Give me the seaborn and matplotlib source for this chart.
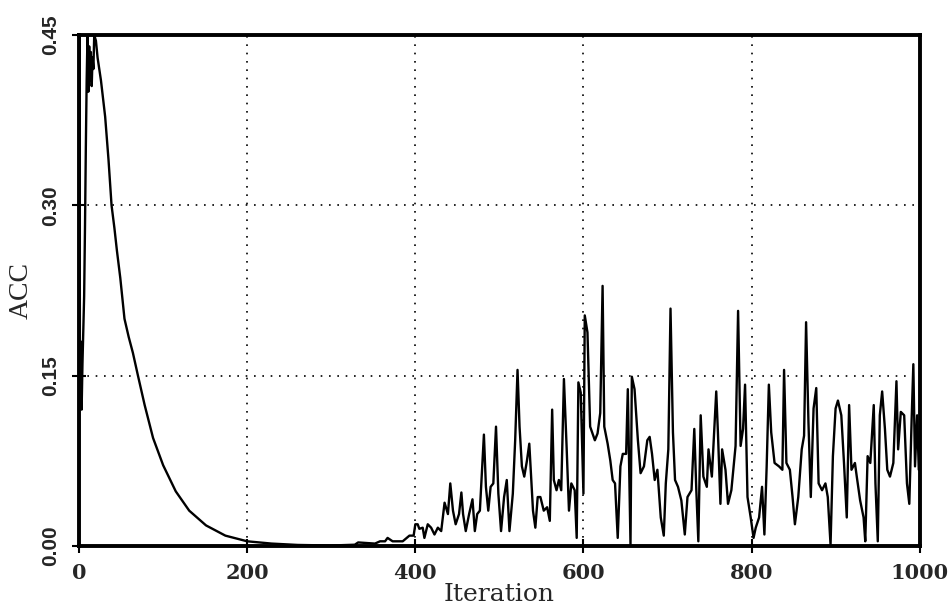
import matplotlib; matplotlib.use("Agg")
import matplotlib.pyplot as plt
import numpy as np
import pandas as pd
import seaborn as sns

# values (iteration, ACC)
ITER = [0, 0.5, 1, 2, 3, 4, 5, 6, 7, 8, 9, 10, 11, 12, 13, 14, 15, 16, 17, 18, 20,
        22, 26, 31, 35, 38.6, 42, 45, 49, 54, 59, 64, 70, 78, 88, 100, 115, 131,
        151, 174, 200, 229, 260, 300, 328, 332, 352, 358, 364, 367, 373, 385, 393,
        398,
        400, 402.8, 404.8, 408.8, 410.8, 414.8, 418.8, 422.8, 426.8, 430.8, 434.8,
        438.8, 441.6, 444.8, 448, 452, 454.8, 456.8, 460, 464, 468, 470.8, 473.6,
        476.8, 481.6, 484, 486.8, 489.6, 492.8, 496, 498.8, 502, 505.6, 508.8, 512,
        516, 518.8, 521.6, 524, 526.8, 529.6, 532.8, 535.6, 538, 540, 542.8, 545.6,
        548.8, 552.8, 556.8, 560, 562.8, 564.8, 568, 570.8, 573.6, 576.8, 580,
        582.8, 585.6, 589.6, 592, 594, 596.8, 600, 601.6, 604.8, 608, 610.8, 613.6,
        616.8, 620, 622.8, 624.8, 628.8, 632, 634.8, 637.6, 640.8, 644, 646.8,
        650.8, 652.8, 656, 657.6, 660.8, 664.8, 668, 672, 676, 678.8, 681.6, 684.8,
        688, 692, 695.6, 698, 701, 703.6, 706.5, 709, 712.5, 716.5, 720.6, 723.8,
        728.6, 731.9, 734.3, 736.7, 739.5, 742.7, 746.8, 748.8, 752.8, 758, 760,
        763, 765, 769, 772, 776, 781, 784, 787, 789.9, 792.3, 795.2, 799, 802.4,
        805, 809, 812.5, 815.3, 818, 820.6, 823.4, 827.4, 832.7, 836.7, 838.7,
        841.5, 845.6, 848.8, 851.6, 855.6, 859.7, 862.5, 864.9, 867.7, 870.5,
        873.8, 877, 879.8, 883.9, 887.9, 890.7, 894, 896.8, 900, 902.8, 906.8, 910,
        913.3, 916.1, 918.9, 923, 925.2, 929.2, 933.3, 935.3, 938.1, 941.3, 945.4,
        947.4, 950.2, 952.6, 955.4, 958.7, 961.5, 964.7, 968.7, 972.4, 974.4,
        977.6, 981.6, 984.9, 987.7, 990.5, 992.5, 994.5, 997, 999]
ACC = [0.0, 0.45, 0.14, 0.18, 0.12, 0.16, 0.19, 0.22, 0.28, 0.35, 0.41, 0.45, 0.40,
       0.44, 0.41, 0.435, 0.405, 0.43, 0.42, 0.45, 0.445,
       0.43, 0.41, 0.378, 0.34, 0.30, 0.28, 0.26, 0.236, 0.200, 0.184, 0.170, 0.150,
       0.124, 0.095, 0.071, 0.048, 0.031, 0.018, 0.009, 0.004, 0.002, 0.0008, 0.0003,
       0.001, 0.003, 0.002, 0.004, 0.004, 0.007, 0.004, 0.004, 0.009, 0.009,
       0.019, 0.019, 0.015, 0.016, 0.007, 0.019, 0.016, 0.010, 0.016, 0.013, 0.038,
       0.028, 0.055, 0.031, 0.019, 0.028, 0.047, 0.028, 0.013, 0.028, 0.041, 0.013,
       0.028, 0.031, 0.098, 0.052, 0.031, 0.052, 0.055, 0.105, 0.046, 0.013, 0.043,
       0.058, 0.013, 0.046, 0.093, 0.155, 0.105, 0.070, 0.061, 0.075, 0.090, 0.058,
       0.031, 0.016, 0.043, 0.043, 0.031, 0.034, 0.022, 0.120, 0.058, 0.049, 0.058,
       0.049, 0.147, 0.087, 0.031, 0.055, 0.049, 0.007, 0.144, 0.135, 0.046, 0.203,
       0.188, 0.105, 0.099, 0.093, 0.099, 0.117, 0.229, 0.105, 0.090, 0.075, 0.058,
       0.055, 0.007, 0.070, 0.081, 0.081, 0.138, 0.001, 0.149, 0.138, 0.093, 0.064,
       0.070, 0.093, 0.096, 0.081, 0.058, 0.067, 0.025, 0.009, 0.055, 0.085, 0.209,
       0.100, 0.058, 0.052, 0.040, 0.010, 0.043, 0.049, 0.103, 0.049, 0.004, 0.115,
       0.061, 0.052, 0.085, 0.061, 0.136, 0.100, 0.037, 0.085, 0.067, 0.037, 0.049,
       0.088, 0.207, 0.088, 0.103, 0.142, 0.043, 0.025, 0.007, 0.016, 0.025, 0.052,
       0.010, 0.070, 0.142, 0.100, 0.073, 0.070, 0.067, 0.155, 0.073, 0.067, 0.043,
       0.019, 0.043, 0.085, 0.097, 0.197, 0.109, 0.043, 0.121, 0.139, 0.055, 0.049,
       0.055, 0.043, 0.001, 0.079, 0.121, 0.128, 0.115, 0.073, 0.025, 0.124, 0.067,
       0.073, 0.061, 0.040, 0.025, 0.004, 0.079, 0.073, 0.124, 0.055, 0.004, 0.115,
       0.136, 0.103, 0.067, 0.061, 0.073, 0.145, 0.085, 0.118, 0.115, 0.055, 0.037,
       0.112, 0.160, 0.070, 0.115, 0.067]
X_TICKS = [0, 200, 400, 600, 800, 1000]
Y_TICKS = [0.00, 0.15, 0.30, 0.45]

sns.set_theme(style="white")
plt.rcParams.update({"figure.facecolor": "white", "axes.facecolor": "white"})

df = pd.DataFrame({"Iteration": ITER, "ACC": ACC})

fig = plt.figure(figsize=(9.53, 6.14), dpi=100)
ax = fig.add_axes([0.083, 0.111, 0.882, 0.832])
sns.lineplot(data=df, x="Iteration", y="ACC", ax=ax, color="black",
             linewidth=1.7, sort=False, estimator=None)

ax.set_xlim(0, 1000); ax.set_ylim(0, 0.45)
ax.set_xticks(X_TICKS); ax.set_yticks(Y_TICKS)
ax.set_xticklabels([str(v) for v in X_TICKS], fontsize=15, fontweight="bold",
                   family="DejaVu Serif")
ax.set_yticklabels([f"{v:.2f}" for v in Y_TICKS], fontsize=15, fontweight="bold",
                   family="Liberation Sans", rotation=90, va="center")
ax.tick_params(axis="both", direction="inout", length=10, width=1.5, color="black",
               bottom=True, left=True)
ax.tick_params(axis="x", pad=7)
ax.tick_params(axis="y", pad=9)

for v in X_TICKS[1:-1]:
    ax.axvline(v, color="black", linewidth=1.2, linestyle=(0, (1, 4)), zorder=0)
for v in Y_TICKS[1:-1]:
    ax.axhline(v, color="black", linewidth=1.2, linestyle=(0, (1, 4)), zorder=0)

for s in ax.spines.values():
    s.set_visible(True); s.set_color("black"); s.set_linewidth(2.8)

ax.set_xlabel("Iteration", fontsize=18, family="DejaVu Serif", labelpad=0)
ax.set_ylabel("ACC", fontsize=20, family="Liberation Serif", labelpad=5)

fig.savefig("out.png", dpi=100, facecolor="white")
plt.close(fig)
